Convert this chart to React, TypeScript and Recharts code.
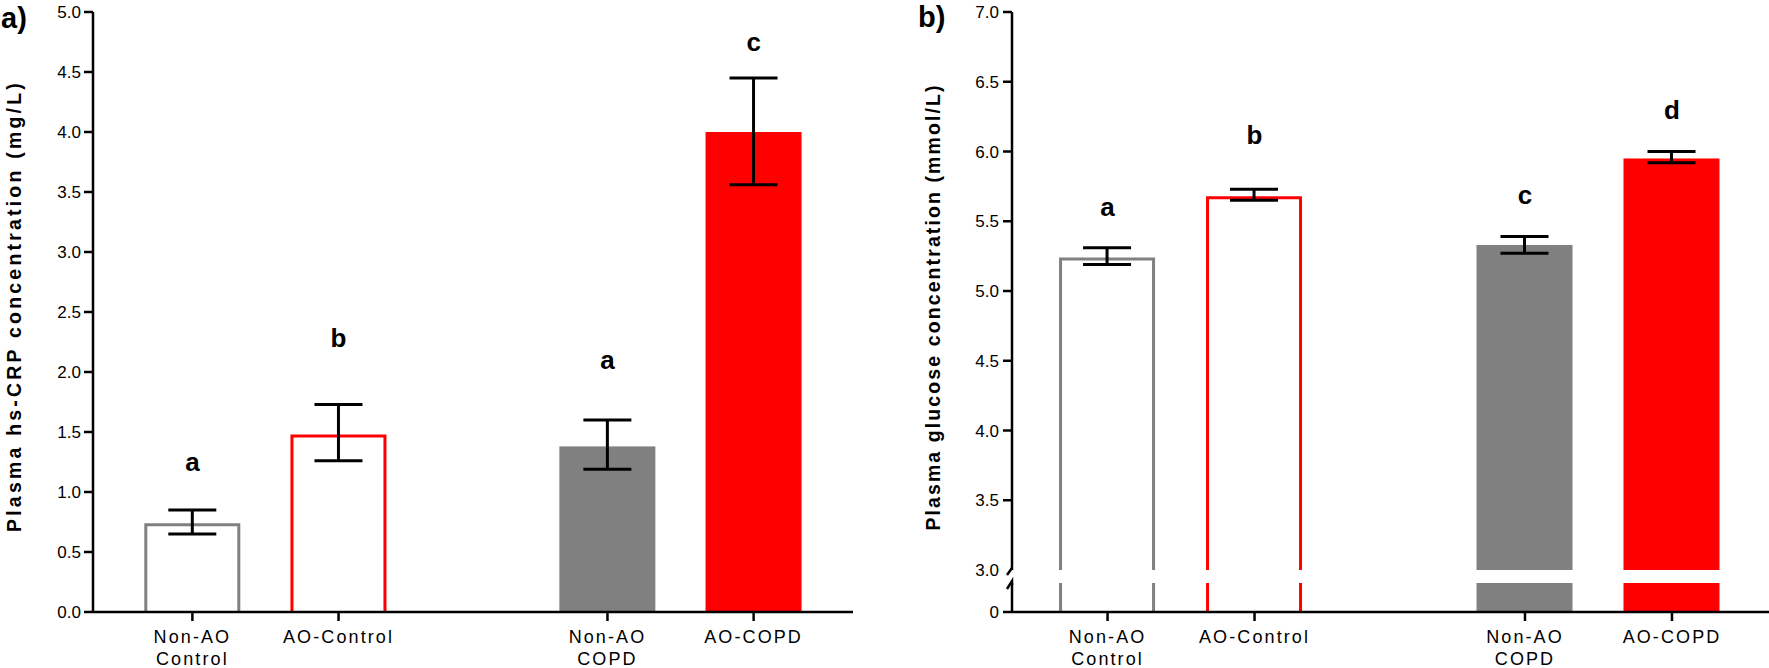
import React from 'react';
import { ComposedChart, Bar, XAxis, YAxis, ErrorBar, Scatter } from 'recharts';

// ---------- data ----------
const GROUPS = ['Non-AO Control', 'AO-Control', 'Non-AO COPD', 'AO-COPD'];
const TICK_LINES = [['Non-AO', 'Control'], ['AO-Control'], ['Non-AO', 'COPD'], ['AO-COPD']];
const GROUP_X = [1, 2, 3.84, 4.84]; // group slots on the x axis (gap between Control and COPD)

const CRP_MEAN = [0.74, 1.48, 1.38, 4.0];
const CRP_ERR_LOW = [0.09, 0.22, 0.19, 0.44];
const CRP_ERR_HIGH = [0.11, 0.25, 0.22, 0.45];
const CRP_LETTERS = ['a', 'b', 'a', 'c'];
const CRP_LETTER_Y = [1.25, 2.28, 2.1, 4.75];
const CRP_TICKS = [0, 0.5, 1, 1.5, 2, 2.5, 3, 3.5, 4, 4.5, 5];

const GLU_MEAN = [5.24, 5.68, 5.33, 5.95];
const GLU_ERR_LOW = [0.05, 0.03, 0.06, 0.03];
const GLU_ERR_HIGH = [0.07, 0.05, 0.06, 0.05];
const GLU_LETTERS = ['a', 'b', 'c', 'd'];
const GLU_LETTER_Y = [5.6, 6.12, 5.69, 6.3];
const GLU_TICKS_UPPER = [3, 3.5, 4, 4.5, 5, 5.5, 6, 6.5, 7];
const GLU_TICKS_LOWER = [0];
const GLU_BREAK = 3;

// ---------- styles ----------
const BAR_COLORS = ['#808080', '#ff0000', '#808080', '#ff0000'];
const BAR_FILLED = [false, false, true, true];
const FONT = "'Liberation Sans', Arial, Helvetica, sans-serif";
const AXIS_W = 2.5;
const OUTLINE_W = 3;

const crpData = GROUPS.map((g, i) => ({
  group: g,
  x: GROUP_X[i],
  mean: CRP_MEAN[i],
  err: [CRP_ERR_LOW[i], CRP_ERR_HIGH[i]],
  letter: CRP_LETTERS[i],
  letterY: CRP_LETTER_Y[i],
}));

const gluData = GROUPS.map((g, i) => ({
  group: g,
  x: GROUP_X[i],
  mean: GLU_MEAN[i],
  err: [GLU_ERR_LOW[i], GLU_ERR_HIGH[i]],
  letter: GLU_LETTERS[i],
  letterY: GLU_LETTER_Y[i],
}));

// ---------- shapes ----------
const BarShape = (props: any) => {
  const { x, y, width, height, index } = props;
  const color = BAR_COLORS[index];
  if (BAR_FILLED[index]) {
    return <rect x={x} y={y} width={width} height={height} fill={color} />;
  }
  const h = OUTLINE_W / 2;
  const x0 = x + h;
  const x1 = x + width - h;
  const yt = y + h;
  const yb = y + height;
  return (
    <path
      d={`M${x0},${yb} L${x0},${yt} L${x1},${yt} L${x1},${yb}`}
      fill="#fff"
      stroke={color}
      strokeWidth={OUTLINE_W}
    />
  );
};

const LowerBarShape = (props: any) => {
  const { x, y, width, height, index } = props;
  const color = BAR_COLORS[index];
  if (BAR_FILLED[index]) {
    return <rect x={x} y={y} width={width} height={height} fill={color} />;
  }
  const h = OUTLINE_W / 2;
  return (
    <g stroke={color} strokeWidth={OUTLINE_W}>
      <line x1={x + h} x2={x + h} y1={y} y2={y + height} />
      <line x1={x + width - h} x2={x + width - h} y1={y} y2={y + height} />
    </g>
  );
};

const LetterShape = (props: any) => {
  const { cx, cy, payload } = props;
  return (
    <text
      x={cx}
      y={cy}
      textAnchor="middle"
      dominantBaseline="central"
      fontFamily={FONT}
      fontWeight="bold"
      fontSize={26}
      fill="#000"
    >
      {payload.letter}
    </text>
  );
};

const XTick = (props: any) => {
  const { x, y, payload } = props;
  const i = GROUP_X.indexOf(payload.value);
  const lines = i >= 0 ? TICK_LINES[i] : [];
  return (
    <g>
      {lines.map((t, k) => (
        <text
          key={k}
          x={x}
          y={y + 20 + k * 22}
          textAnchor="middle"
          fontFamily={FONT}
          fontSize={18}
          letterSpacing={2.1}
          fill="#000"
        >
          {t}
        </text>
      ))}
    </g>
  );
};

const UpperYTick = (props: any) => {
  const { x, y, payload } = props;
  const ax = x + 9 + 4;
  const v = payload.value;
  return (
    <g>
      {v === GLU_BREAK ? (
        <g stroke="#000" strokeWidth={AXIS_W} fill="none">
          <path d={`M${ax},${y - 2} L${ax - 5},${y + 5}`} />
          <path d={`M${ax - 5},${y + 19} L${ax},${y + 11} L${ax},${y + 15}`} />
        </g>
      ) : (
        <line x1={ax - 9} x2={ax} y1={y} y2={y} stroke="#000" strokeWidth={AXIS_W} />
      )}
      <text
        x={x}
        y={y}
        dy="0.355em"
        textAnchor="end"
        fontFamily={FONT}
        fontSize={17}
        fill="#000"
      >
        {v.toFixed(1)}
      </text>
    </g>
  );
};

const AxisTitle = (props: any) => {
  const { text, bx, cy, spacing, panel, px, py } = props;
  return (
    <g>
      <text
        transform={`translate(${bx},${cy}) rotate(-90)`}
        textAnchor="middle"
        fontFamily={FONT}
        fontWeight="bold"
        fontSize={19.5}
        letterSpacing={spacing}
        fill="#000"
      >
        {text}
      </text>
      <text x={px} y={py} fontFamily={FONT} fontWeight="bold" fontSize={29} fill="#000">
        {panel}
      </text>
    </g>
  );
};

const axisLine = { stroke: '#000', strokeWidth: AXIS_W };
const tickStyle = { fill: '#000', fontSize: 17, fontFamily: FONT };

export default function App() {
  return (
    <div
      style={{
        position: 'absolute',
        left: 0,
        top: 0,
        width: 1769,
        height: 668,
        background: '#fff',
        overflow: 'hidden',
      }}
    >
      {/* Panel a */}
      <div style={{ position: 'absolute', left: 0, top: 0 }}>
        <ComposedChart
          width={880}
          height={668}
          data={crpData}
          margin={{ top: 12, right: 27, bottom: 0, left: 0 }}
        >
          <XAxis
            type="number"
            dataKey="x"
            domain={[0.32, 5.52]}
            allowDataOverflow
            ticks={GROUP_X}
            interval={0}
            height={56}
            axisLine={axisLine}
            tickLine={axisLine}
            tickSize={9}
            tick={<XTick />}
          />
          <YAxis
            type="number"
            domain={[0, 5]}
            allowDataOverflow
            ticks={CRP_TICKS}
            interval={0}
            width={93}
            axisLine={axisLine}
            tickLine={axisLine}
            tickSize={9}
            tickMargin={3}
            tick={tickStyle}
            tickFormatter={(v: number) => v.toFixed(1)}
            label={
              <AxisTitle
                text="Plasma hs-CRP concentration (mg/L)"
                bx={21}
                cy={306}
                spacing={3.2}
                panel="a)"
                px={1}
                py={28}
              />
            }
          />
          <Bar dataKey="mean" barSize={96} shape={BarShape} isAnimationActive={false}>
            <ErrorBar dataKey="err" width={24} stroke="#000" strokeWidth={3} direction="y" />
          </Bar>
          <Scatter dataKey="letterY" shape={LetterShape} isAnimationActive={false} />
        </ComposedChart>
      </div>

      {/* Panel b - lower segment (0) */}
      <div style={{ position: 'absolute', left: 880, top: 0 }}>
        <ComposedChart
          width={889}
          height={668}
          data={gluData}
          margin={{ top: 583, right: 0, bottom: 0, left: 0 }}
        >
          <XAxis
            type="number"
            dataKey="x"
            domain={[0.35, 5.5]}
            allowDataOverflow
            ticks={GROUP_X}
            interval={0}
            height={56}
            axisLine={axisLine}
            tickLine={axisLine}
            tickSize={9}
            tick={<XTick />}
          />
          <YAxis
            type="number"
            domain={[0, GLU_BREAK]}
            allowDataOverflow
            ticks={GLU_TICKS_LOWER}
            interval={0}
            width={132}
            axisLine={axisLine}
            tickLine={axisLine}
            tickSize={9}
            tickMargin={4}
            tick={tickStyle}
            tickFormatter={(v: number) => String(v)}
          />
          <Bar
            dataKey={(d: any) => Math.min(d.mean, GLU_BREAK)}
            barSize={96}
            shape={LowerBarShape}
            isAnimationActive={false}
          />
        </ComposedChart>
      </div>

      {/* Panel b - upper segment (3.0 - 7.0) */}
      <div style={{ position: 'absolute', left: 880, top: 0 }}>
        <ComposedChart
          width={889}
          height={668}
          data={gluData}
          margin={{ top: 12, right: 0, bottom: 98, left: 0 }}
        >
          <XAxis
            hide
            type="number"
            dataKey="x"
            domain={[0.35, 5.5]}
            allowDataOverflow
            ticks={GROUP_X}
          />
          <YAxis
            type="number"
            domain={[GLU_BREAK, 7]}
            allowDataOverflow
            ticks={GLU_TICKS_UPPER}
            interval={0}
            width={132}
            axisLine={axisLine}
            tickLine={false}
            tickSize={9}
            tickMargin={4}
            tick={<UpperYTick />}
            label={
              <AxisTitle
                text="Plasma glucose concentration (mmol/L)"
                bx={60}
                cy={307}
                spacing={2.1}
                panel="b)"
                px={38}
                py={27}
              />
            }
          />
          <Bar dataKey="mean" barSize={96} shape={BarShape} isAnimationActive={false}>
            <ErrorBar dataKey="err" width={24} stroke="#000" strokeWidth={3} direction="y" />
          </Bar>
          <Scatter dataKey="letterY" shape={LetterShape} isAnimationActive={false} />
        </ComposedChart>
      </div>
    </div>
  );
}
